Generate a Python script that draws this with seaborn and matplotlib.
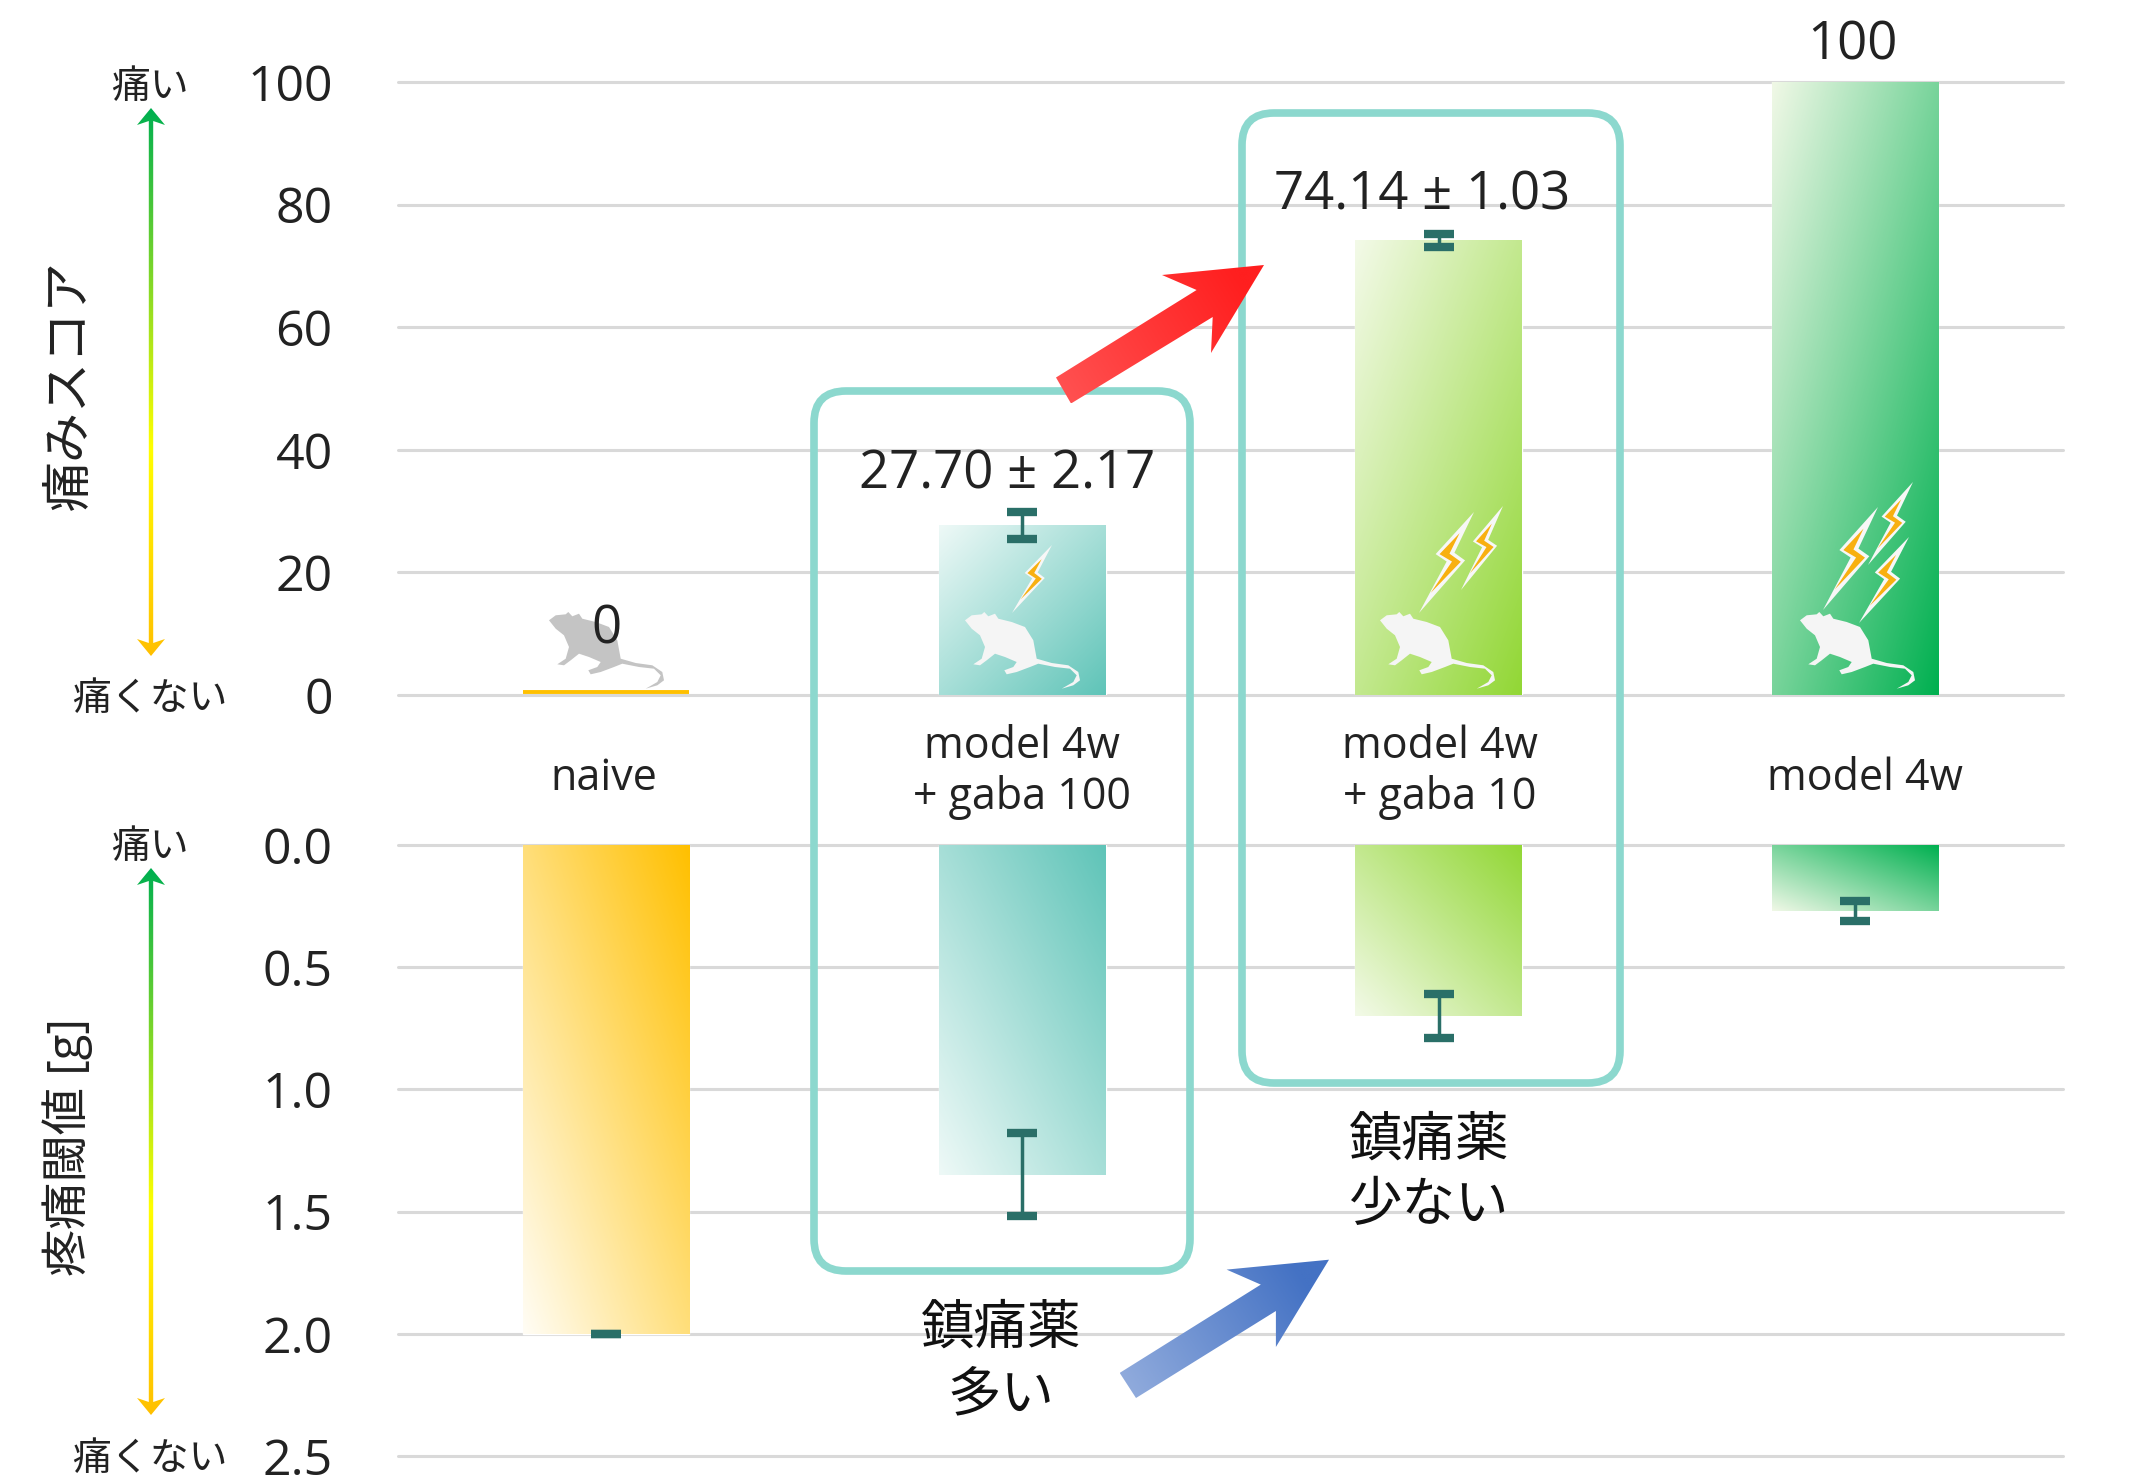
import numpy as np
import pandas as pd
import matplotlib
matplotlib.use("Agg")
import matplotlib.pyplot as plt
import seaborn as sns
from matplotlib.colors import LinearSegmentedColormap
from matplotlib.patches import FancyBboxPatch, Polygon
from matplotlib.transforms import ScaledTranslation

# Values
groups = ["naive", "model 4w\n+ gaba 100", "model 4w\n+ gaba 10", "model 4w"]
pain_score = [0, 27.70, 74.14, 100]
pain_err = [np.nan, 2.17, 1.03, np.nan]
threshold = [2.0, 1.35, 0.70, 0.27]
threshold_err = [0, 0.17, 0.09, 0.04]
score_ticks = [0, 20, 40, 60, 80, 100]
threshold_ticks = [0.0, 0.5, 1.0, 1.5, 2.0, 2.5]
bar_colors = ["#FFC000", "#5FC4B8", "#92D735", "#00B050"]
light_colors = ["#FFFDF5", "#EEF9F7", "#F3FAE8", "#F0F8E6"]

W, H = 2129, 1476
GRID = "#D9D9D9"
DARK = "#222222"
TEAL = "#8CD8CE"
ERR = "#2A6F68"

sns.set_theme(style="white")
plt.rcParams["font.family"] = ["Open Sans", "Noto Sans CJK JP"]

df = pd.DataFrame({"group": groups, "score": pain_score, "threshold": threshold})

fig = plt.figure(figsize=(W / 100, H / 100), dpi=100)


def add_axes_px(left, top, right, bottom):
    return fig.add_axes([left / W, 1 - bottom / H, (right - left) / W, (bottom - top) / H])


def gradient_bars(ax, flip):
    # seaborn draws the bars, the fill is swapped for a diagonal gradient
    xlim, ylim = ax.get_xlim(), ax.get_ylim()
    u, v = np.meshgrid(np.linspace(0, 1, 200), np.linspace(0, 1, 200))
    t = (u + (1 - v if flip else v)) / 2
    bars = sorted(ax.patches, key=lambda p: p.get_x())
    for bar, dark, light in zip(bars, bar_colors, light_colors):
        x0, w, h = bar.get_x(), bar.get_width(), bar.get_height()
        if h == 0:
            # zero score still shows as a thin line sitting just above the axis
            bar.set(edgecolor=dark, linewidth=2.8, clip_on=False, zorder=3, y=0.5)
            continue
        bar.set_facecolor("none")
        cmap = LinearSegmentedColormap.from_list("bar", [light, dark])
        extent = (x0, x0 + w, h, 0) if flip else (x0, x0 + w, 0, h)
        ax.imshow(t, cmap=cmap, extent=extent, aspect="auto", zorder=2, vmin=0, vmax=1)
    ax.set_xlim(xlim)
    ax.set_ylim(ylim)


def style_axis(ax, ticks, labels, ylabel, label_size, label_x):
    ax.set_yticks(ticks, labels)
    ax.set_xlabel("")
    ax.set_ylabel(ylabel, fontsize=label_size, color=DARK)
    ax.yaxis.set_label_coords((label_x - 398) / 1665, 0.505)
    ax.grid(axis="y", color=GRID, linewidth=2.2)
    ax.grid(axis="x", visible=False)
    ax.set_axisbelow(True)
    ax.tick_params(axis="y", length=0, pad=47, labelsize=36, labelcolor=DARK)
    for line in ax.get_ygridlines():
        line.set_clip_on(False)
    sns.despine(ax=ax, left=True, bottom=True)


# top panel: pain score
ax_top = add_axes_px(398, 82, 2063, 695)
sns.barplot(data=df, x="group", y="score", order=groups, width=0.4, color="#cccccc", errorbar=None, ax=ax_top)
ax_top.set_xlim(-0.5, 3.5)
ax_top.set_ylim(0, 100)
gradient_bars(ax_top, False)
ax_top.errorbar(range(4), pain_score, yerr=pain_err, fmt="none", ecolor=ERR, elinewidth=2.5,
                capsize=11, capthick=6, zorder=4)
style_axis(ax_top, score_ticks, [str(v) for v in score_ticks], "痛みスコア", 36, 96)
ax_top.tick_params(axis="x", length=0, pad=57, labelsize=31, labelcolor=DARK)
ax_top.set_xticks(range(4), groups, va="center", linespacing=1.2)
for label, dx, dy in zip(ax_top.get_xticklabels(), [-2, 0, 1, 10], [-5, 2, 2, -5]):
    label.set_transform(label.get_transform() + ScaledTranslation(dx / 100, dy / 100, fig.dpi_scale_trans))

# bottom panel: withdrawal threshold, axis runs downward
ax_bot = add_axes_px(398, 845, 2063, 1456)
sns.barplot(data=df, x="group", y="threshold", order=groups, width=0.4, color="#cccccc", errorbar=None, ax=ax_bot)
ax_bot.set_xlim(-0.5, 3.5)
ax_bot.set_ylim(2.5, 0)
gradient_bars(ax_bot, True)
ax_bot.errorbar(range(4), threshold, yerr=threshold_err, fmt="none", ecolor=ERR, elinewidth=2.5,
                capsize=11, capthick=6, zorder=4)
style_axis(ax_bot, threshold_ticks, [f"{v:.1f}" for v in threshold_ticks], "疼痛閾値 [g]", 34, 93)
ax_bot.set_xticks([])

# overlay in pixel coordinates for the annotations
ov = fig.add_axes([0, 0, 1, 1], zorder=5)
ov.patch.set_alpha(0)
ov.axis("off")


def gradient_poly(pts, colors, start, end, zorder=6):
    pts = np.array(pts, dtype=float)
    xs = np.linspace(pts[:, 0].min(), pts[:, 0].max(), 300)
    ys = np.linspace(pts[:, 1].min(), pts[:, 1].max(), 600)
    gx, gy = np.meshgrid(xs, ys)
    d = np.array(end, dtype=float) - np.array(start, dtype=float)
    t = ((gx - start[0]) * d[0] + (gy - start[1]) * d[1]) / (d @ d)
    cmap = LinearSegmentedColormap.from_list("g", colors)
    img = ov.imshow(t, cmap=cmap, vmin=0, vmax=1, aspect="auto", origin="upper", zorder=zorder,
                    extent=(xs[0], xs[-1], ys[-1], ys[0]))
    poly = Polygon(pts, closed=True, transform=ov.transData, facecolor="none", edgecolor="none")
    ov.add_patch(poly)
    img.set_clip_path(poly)


def pain_arrow(x, top, bottom):
    half, head_w, head_h = 2.2, 14, 17
    pts = [(x, top), (x + head_w, top + head_h), (x + half, top + head_h - 4), (x + half, bottom - head_h + 4),
           (x + head_w, bottom - head_h), (x, bottom), (x - head_w, bottom - head_h),
           (x - half, bottom - head_h + 4), (x - half, top + head_h - 4), (x - head_w, top + head_h)]
    gradient_poly(pts, [(0, "#00B050"), (0.62, "#FFFF00"), (1, "#FFC000")], (x, top), (x, bottom))


pain_arrow(151, 108, 656)
pain_arrow(151, 868, 1415)

for text, x, y in [("痛い", 150, 88), ("痛くない", 150, 700), ("痛い", 150, 848), ("痛くない", 150, 1460)]:
    ov.text(x, y, text, fontsize=28, color=DARK, ha="center", va="center")

# rounded boxes around the treated groups
for left, top, right, bottom in [(814, 391, 1190, 1271), (1242, 113, 1620, 1083)]:
    ov.add_patch(FancyBboxPatch((left + 32, top + 32), right - left - 64, bottom - top - 64,
                                boxstyle="round,pad=32,rounding_size=32", facecolor="none",
                                edgecolor=TEAL, linewidth=5.5, zorder=5))

# mouse and bolt pictograms
mouse_shape = [(0, 8.3), (6.7, 3.3), (16.7, 2.3), (19.3, 0), (23.3, 4.3), (30, 1.7), (33.3, 6.7), (46.7, 10), (60, 15),
               (68.3, 28.3), (71.7, 46.7), (86.7, 51), (103.3, 53.3), (113.3, 60), (115, 68.3), (108.3, 73.3),
               (96.7, 76.7), (108.3, 70), (111.7, 63.3), (105, 56.7), (90, 55), (73.3, 51.7), (65, 55), (51.7, 60),
               (41.7, 62.3), (39.3, 58.3), (48.3, 55), (51.7, 50), (40, 45), (30, 41.7), (21.7, 48.3), (15, 53.3),
               (8.3, 52.3), (16.7, 46.7), (20, 35), (15, 23.3), (6.7, 16.7)]
bolt_white = [(0, 0), (0.593, -0.133), (0.607, -0.02), (1, 0), (0.519, 0.118), (0.508, 0.003)]
bolt_orange = [(0.203, -0.006), (0.565, -0.106), (0.58, 0.014), (0.779, 0.022), (0.535, 0.088), (0.53, -0.038)]


def mouse(left, top, color):
    ov.add_patch(Polygon([(left + dx, top + dy) for dx, dy in mouse_shape], closed=True, facecolor=color,
                         edgecolor="none", zorder=3))


def bolt(x0, y0, x1, y1):
    along = np.array([x1 - x0, y1 - y0], dtype=float)
    normal = np.array([along[1], -along[0]])
    for shape, color in [(bolt_white, "#F7F7F7"), (bolt_orange, "#F8B010")]:
        pts = [np.array([x0, y0]) + t * along + n * normal for t, n in shape]
        ov.add_patch(Polygon(pts, closed=True, facecolor=color, edgecolor="none", zorder=3))


mouse(549, 612, "#C4C4C4")
for left in [965, 1380, 1800]:
    mouse(left, 612, "#F5F5F5")
bolt(1012, 613, 1052, 545)
bolt(1419, 613, 1474, 512)
bolt(1461, 590, 1503, 506)
bolt(1823, 610, 1878, 507)
bolt(1868, 565, 1913, 482)
bolt(1859, 623, 1909, 537)

# value labels
for text, x, y in [("0", 606, 630), ("27.70 ± 2.17", 1007, 475), ("74.14 ± 1.03", 1422, 196), ("100", 1852, 46)]:
    ov.text(x, y, text, fontsize=38, color=DARK, ha="center", va="center", zorder=7)

# drug dose notes
for text, x, y in [("鎮痛薬", 1001, 1330), ("多い", 1001, 1397), ("鎮痛薬", 1429, 1142), ("少ない", 1429, 1207)]:
    ov.text(x, y, text, fontsize=38.5, color="#111111", ha="center", va="center", zorder=7)

# block arrows
red_arrow = [(1056, 377.5), (1071, 403.5), (1212.7, 317), (1211, 353), (1264, 265), (1162, 275), (1196.6, 290)]
blue_arrow = [(1119.7, 1372.9), (1136, 1398), (1275.9, 1311), (1275.9, 1347), (1329, 1259.7), (1226.6, 1269.6), (1260.8, 1284.6)]
gradient_poly(red_arrow, ["#FF5050", "#FF1F1F"], (1063, 390), (1240, 280), zorder=8)
gradient_poly(blue_arrow, ["#8FAADC", "#4472C4"], (1128, 1385), (1300, 1275), zorder=8)

ov.set_xlim(0, W)
ov.set_ylim(H, 0)

fig.savefig("out.png", dpi=100, facecolor="white")
